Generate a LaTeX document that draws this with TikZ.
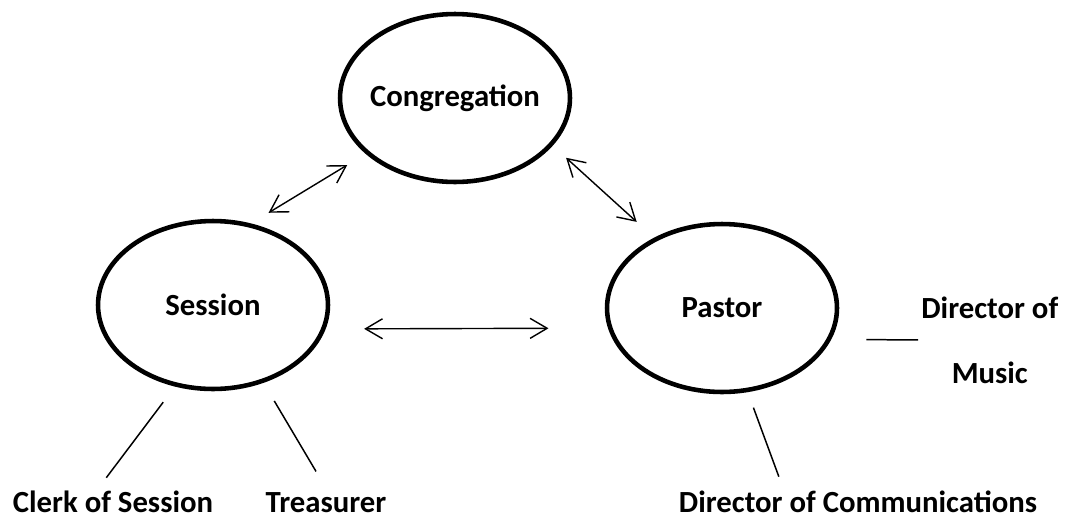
\documentclass[tikz,border=0pt]{standalone}
\usepackage{fontspec}
\setmainfont{Carlito}
\usetikzlibrary{arrows.meta,positioning,shapes.geometric}

\begin{document}
\begin{tikzpicture}[x=0.02cm, y=-0.02cm,
      body/.style={ellipse, draw=black, line width=2.6pt,
                   minimum width=4.6cm, minimum height=3.36cm,
                   inner xsep=-6pt, inner ysep=0pt},
      office/.style={inner sep=0pt, text height=0.4cm, text depth=0pt,
                     anchor=base},
      link/.style={{Straight Barb[length=0.34cm,width=0.4cm]}-{Straight Barb[length=0.34cm,width=0.4cm]},
                   line width=0.8pt},
      branch/.style={line width=0.85pt},
      every node/.style={font=\fontsize{17.5}{21}\selectfont\bfseries}]
  \useasboundingbox (0,0) rectangle (1074,518);

  \node[body] (cong) at (455,98)  {Congregation};
  \node[body] (ses)  at (213,305) {Session};
  \node[body] (pas)  at (722,308) {Pastor};

  \node[office] (clerk) at (113,512) {Clerk of Session};
  \node[office] (treas) at (326,512) {Treasurer};
  \node[office] (comm)  at (858,512) {Director of Communications};
  \node[inner sep=0pt, align=center, anchor=west] (music) at (921,340)
       {Director of\\[16pt]Music};

  % two-way arrows between the bodies
  \draw[link, shorten <=0.41cm, shorten >=0.43cm] (ses.65)  -- (cong.212);
  \draw[link, shorten <=0.36cm, shorten >=0.47cm] (cong.334) -- (pas.134);
  \draw[link, shorten <=0.77cm, shorten >=1.19cm] (ses.348) -- (pas.190.5);

  % plain lines to the offices
  \foreach \from/\to/\s/\t in {ses.245/clerk.149/0.39cm/0.35cm,
                               ses.303/treas.79.8/0.42cm/0.47cm,
                               pas.287/comm.172.4/0.33cm/0.32cm,
                               pas.344/music.west/0.70cm/0.06cm}
    \draw[branch, shorten <=\s, shorten >=\t] (\from) -- (\to);
\end{tikzpicture}
\end{document}
